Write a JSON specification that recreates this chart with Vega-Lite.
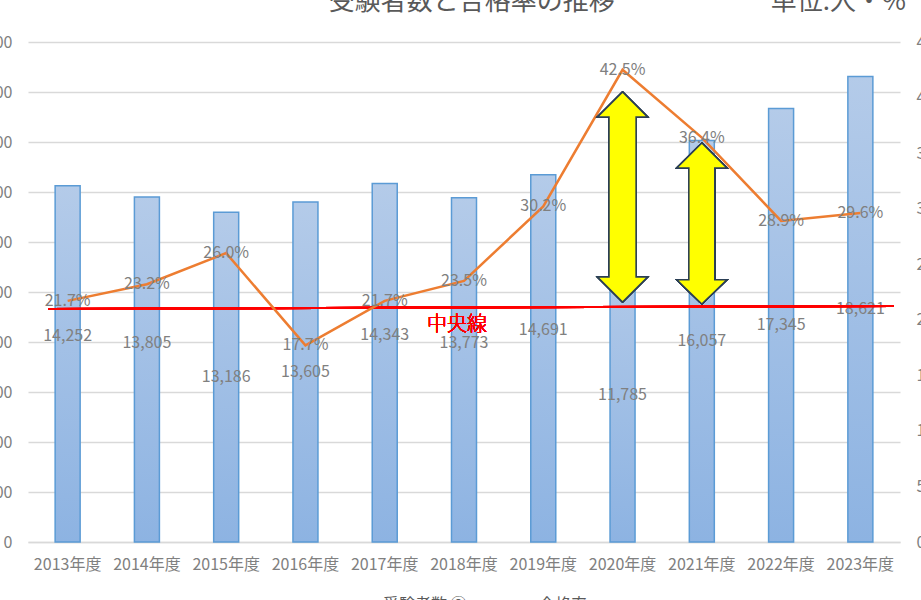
{
  "$schema": "https://vega.github.io/schema/vega-lite/v6.json",
  "autosize": "none",
  "padding": {"left": 28, "top": 42, "right": 21, "bottom": 58},
  "width": 872,
  "height": 500,
  "background": "white",
  "title": {
    "text": "受験者数と合格率の推移　　　　　　単位:人・%",
    "anchor": "end", "frame": "group", "offset": -2, "baseline": "alphabetic", "dx": 6,
    "fontSize": 26, "font": "Noto Sans CJK JP", "fontWeight": "normal", "color": "#595959"
  },
  "data": {
    "values": [
      {"year": "2013年度", "applicants": 14252, "rate": 0.217},
      {"year": "2014年度", "applicants": 13805, "rate": 0.232},
      {"year": "2015年度", "applicants": 13186, "rate": 0.260},
      {"year": "2016年度", "applicants": 13605, "rate": 0.177},
      {"year": "2017年度", "applicants": 14343, "rate": 0.217},
      {"year": "2018年度", "applicants": 13773, "rate": 0.235},
      {"year": "2019年度", "applicants": 14691, "rate": 0.302},
      {"year": "2020年度", "applicants": 11785, "rate": 0.425},
      {"year": "2021年度", "applicants": 16057, "rate": 0.364},
      {"year": "2022年度", "applicants": 17345, "rate": 0.289},
      {"year": "2023年度", "applicants": 18621, "rate": 0.296}
    ]
  },
  "encoding": {
    "x": {
      "field": "year", "type": "ordinal", "sort": null,
      "scale": {"paddingInner": 0, "paddingOuter": 0},
      "axis": {"title": null, "labelAngle": 0, "ticks": false, "labelPadding": 14, "domainColor": "#d9d9d9", "domainWidth": 1.3}
    }
  },
  "layer": [
    {
      "mark": {
        "type": "bar", "width": 25, "stroke": "#5b9bd5", "strokeWidth": 1.5,
        "color": {"gradient": "linear", "x1": 0, "y1": 0, "x2": 0, "y2": 1,
          "stops": [{"offset": 0, "color": "#b4cbe9"}, {"offset": 1, "color": "#8db3e2"}]}
      },
      "encoding": {
        "y": {
          "field": "applicants", "type": "quantitative",
          "scale": {"domain": [0, 20000], "nice": false},
          "axis": {"orient": "left", "title": null, "values": [0, 2000, 4000, 6000, 8000, 10000, 12000, 14000, 16000, 18000, 20000],
            "format": ",.0f", "ticks": false, "domain": false, "labelPadding": 16, "grid": true, "gridColor": "#d9d9d9", "gridWidth": 1.3}
        }
      }
    },
    {
      "transform": [{"filter": {"field": "year", "oneOf": ["2013年度", "2014年度", "2017年度", "2018年度", "2019年度"]}}],
      "mark": {"type": "text", "baseline": "middle", "fontSize": 16, "color": "#808080"},
      "encoding": {
        "y": {"field": "applicants", "type": "quantitative", "scale": {"domain": [0, 34660], "nice": false}, "axis": null},
        "text": {"field": "applicants", "type": "quantitative", "format": ","}
      }
    },
    {
      "transform": [{"filter": {"field": "year", "oneOf": ["2015年度", "2016年度", "2020年度", "2021年度", "2022年度", "2023年度"]}}],
      "mark": {"type": "text", "baseline": "middle", "fontSize": 16, "color": "#808080"},
      "encoding": {
        "y": {"field": "applicants", "type": "quantitative", "scale": {"domain": [0, 40000], "nice": false}, "axis": null},
        "text": {"field": "applicants", "type": "quantitative", "format": ","}
      }
    },
    {
      "mark": {"type": "rule", "color": "#ff0000", "strokeWidth": 2, "xOffset": -19, "x2Offset": 33},
      "encoding": {
        "x": {"datum": "2013年度"},
        "x2": {"datum": "2023年度"},
        "y": {"datum": 0.2097, "type": "quantitative", "scale": {"domain": [0, 0.45], "nice": false}, "axis": null},
        "y2": {"datum": 0.2124}
      }
    },
    {
      "mark": {"type": "text", "text": "中央線", "color": "#ff0000", "fontSize": 20, "fontWeight": 300, "baseline": "middle", "dx": -7},
      "encoding": {
        "x": {"datum": "2018年度"},
        "y": {"datum": 0.1953, "type": "quantitative", "scale": {"domain": [0, 0.45], "nice": false}, "axis": null}
      }
    },
    {
      "mark": {"type": "line", "strokeWidth": 2.5},
      "encoding": {
        "y": {
          "field": "rate", "type": "quantitative",
          "scale": {"domain": [0, 0.45], "nice": false},
          "axis": {"orient": "right", "title": null, "values": [0, 0.05, 0.1, 0.15, 0.2, 0.25, 0.3, 0.35, 0.4, 0.45],
            "format": ".0%", "ticks": false, "domain": false, "labelPadding": 16, "grid": false}
        },
        "color": {
          "datum": "合格率",
          "scale": {"domain": ["受験者数 ②", "合格率"], "range": ["#5b9bd5", "#ed7d31"]},
          "legend": {"title": null, "orient": "none", "legendX": 309, "legendY": 542, "direction": "horizontal",
            "symbolType": "stroke", "symbolSize": 1444, "symbolStrokeWidth": 2.5, "labelFontSize": 16,
            "labelColor": "#595959", "labelFont": "Noto Sans CJK JP", "columnPadding": 22, "labelOffset": 5}
        }
      }
    },
    {
      "mark": {"type": "text", "baseline": "middle", "fontSize": 16, "color": "#808080"},
      "encoding": {
        "y": {"field": "rate", "type": "quantitative", "scale": {"domain": [0, 0.45], "nice": false}, "axis": null},
        "text": {"field": "rate", "type": "quantitative", "format": ".1%"}
      }
    },
    {
      "mark": {
        "type": "point", "filled": true, "opacity": 1, "fill": "#ffff00", "stroke": "#2b3f55", "strokeWidth": 1.5, "size": 44100,
        "shape": "M0,-1L0.238,-0.762L0.129,-0.762L0.129,0.762L0.238,0.762L0,1L-0.238,0.762L-0.129,0.762L-0.129,-0.762L-0.238,-0.762Z"
      },
      "encoding": {
        "x": {"datum": "2020年度"},
        "y": {"datum": 0.3105, "type": "quantitative", "scale": {"domain": [0, 0.45], "nice": false}, "axis": null}
      }
    },
    {
      "mark": {
        "type": "point", "filled": true, "opacity": 1, "fill": "#ffff00", "stroke": "#2b3f55", "strokeWidth": 1.5, "size": 25921,
        "shape": "M0,-1L0.311,-0.689L0.161,-0.689L0.161,0.7L0.311,0.7L0,1L-0.311,0.7L-0.161,0.7L-0.161,-0.689L-0.311,-0.689Z"
      },
      "encoding": {
        "x": {"datum": "2021年度"},
        "y": {"datum": 0.2867, "type": "quantitative", "scale": {"domain": [0, 0.45], "nice": false}, "axis": null}
      }
    }
  ],
  "resolve": {"scale": {"y": "independent"}},
  "config": {
    "view": {"stroke": null},
    "font": "Noto Sans CJK JP",
    "text": {"font": "Noto Sans CJK JP"},
    "axis": {"labelFont": "Noto Sans CJK JP", "labelFontSize": 16, "labelColor": "#808080"}
  }
}
